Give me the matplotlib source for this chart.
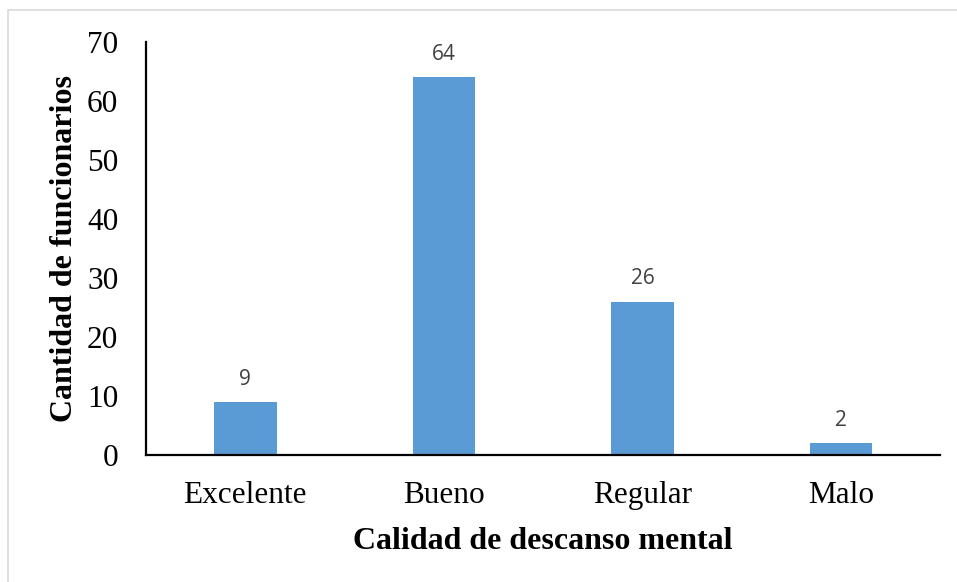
import matplotlib.pyplot as plt
from matplotlib.patches import Rectangle

categories = ["Excelente", "Bueno", "Regular", "Malo"]
counts = [9, 64, 26, 2]

fig = plt.figure(figsize=(9.57, 5.82), dpi=100)
ax = fig.add_axes([0.1526, 0.2182, 0.8300, 0.7096])

# light frame around the chart area
fig.patches.append(Rectangle((8 / 957, -0.1), 1.2, 1 - 10 / 582 + 0.1,
                             transform=fig.transFigure, fill=False,
                             edgecolor="#d9d9d9", linewidth=1.2))

x = range(len(categories))
bars = ax.bar(x, counts, width=0.315, color="#5b9bd5")

for b, v in zip(bars, counts):
    ax.text(b.get_x() + b.get_width() / 2, v + 2.1, str(v),
            ha="center", va="bottom", fontsize=15, color="#404040",
            family="Open Sans")

ax.set_xlim(-0.5, 3.5)
ax.set_ylim(0, 70)
ax.set_yticks(range(0, 71, 10))
ax.set_xticks(list(x))
ax.set_xticklabels(categories)

for s in ["top", "right"]:
    ax.spines[s].set_visible(False)
ax.spines["left"].set_linewidth(1.6)
ax.spines["bottom"].set_linewidth(1.6)

ax.tick_params(axis="both", length=0, labelsize=22.5)
ax.tick_params(axis="y", pad=20)
ax.tick_params(axis="x", pad=19)
for lbl in ax.get_xticklabels() + ax.get_yticklabels():
    lbl.set_family("Liberation Serif")

ax.set_xlabel("Calidad de descanso mental", fontsize=23, fontweight="bold",
              family="Liberation Serif", labelpad=12)
ax.set_ylabel("Cantidad de funcionarios", fontsize=23, fontweight="bold",
              family="Liberation Serif", labelpad=6)

fig.savefig("out.png", dpi=100)
